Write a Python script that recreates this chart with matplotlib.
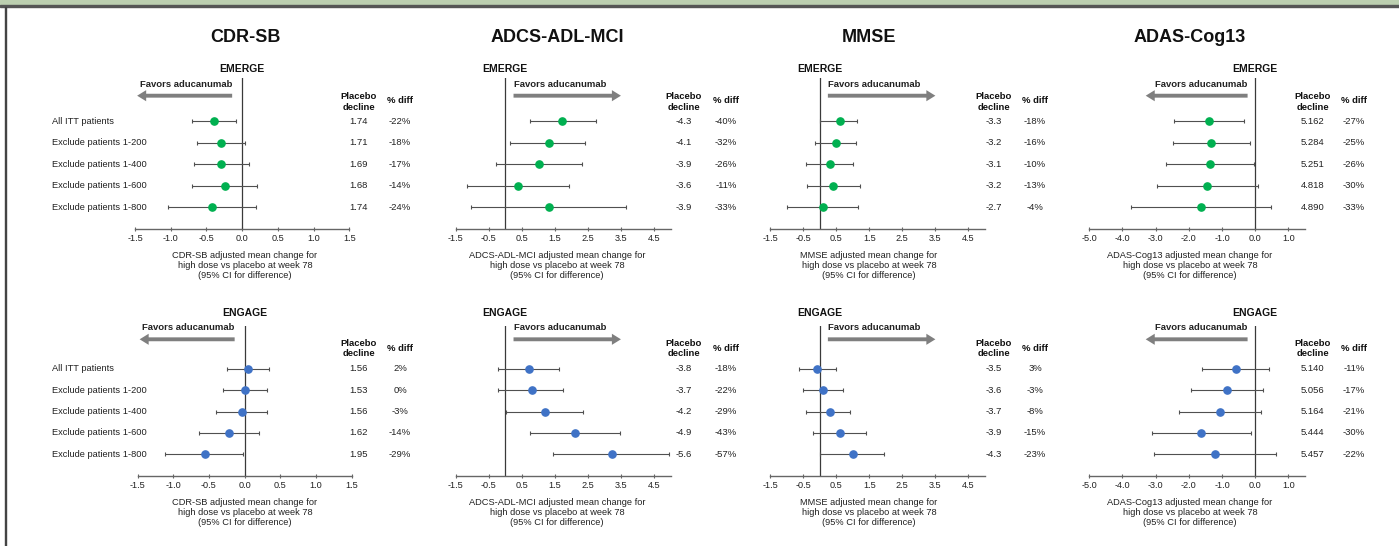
import numpy as np
import matplotlib
matplotlib.use("Agg")
import matplotlib.pyplot as plt
from matplotlib import transforms
from matplotlib.patches import Rectangle

plt.rcParams['font.family'] = ['Liberation Sans', 'DejaVu Sans']
plt.rcParams['axes.unicode_minus'] = False

W, H = 1399, 546

# ---- data ----
rows = ["All ITT patients", "Exclude patients 1-200", "Exclude patients 1-400",
        "Exclude patients 1-600", "Exclude patients 1-800"]
measures = ["CDR-SB", "ADCS-ADL-MCI", "MMSE", "ADAS-Cog13"]
studies = ["EMERGE", "ENGAGE"]

# EMERGE
emerge_cdr_est = [-0.39, -0.30, -0.29, -0.24, -0.42]
emerge_cdr_lo = [-0.70, -0.63, -0.68, -0.70, -1.04]
emerge_cdr_hi = [-0.08, 0.04, 0.10, 0.21, 0.20]
emerge_cdr_placebo = [1.74, 1.71, 1.69, 1.68, 1.74]
emerge_cdr_pct = [-22, -18, -17, -14, -24]

emerge_adl_est = [1.71, 1.31, 1.01, 0.40, 1.31]
emerge_adl_lo = [0.76, 0.14, -0.27, -1.15, -1.04]
emerge_adl_hi = [2.76, 2.40, 2.33, 1.93, 3.65]
emerge_adl_placebo = [-4.3, -4.1, -3.9, -3.6, -3.9]
emerge_adl_pct = [-40, -32, -26, -11, -33]

emerge_mmse_est = [0.61, 0.50, 0.30, 0.40, 0.10]
emerge_mmse_lo = [0.00, -0.13, -0.40, -0.38, -0.99]
emerge_mmse_hi = [1.14, 1.11, 1.01, 1.23, 1.17]
emerge_mmse_placebo = [-3.3, -3.2, -3.1, -3.2, -2.7]
emerge_mmse_pct = [-18, -16, -10, -13, -4]

emerge_adas_est = [-1.40, -1.32, -1.36, -1.44, -1.62]
emerge_adas_lo = [-2.45, -2.48, -2.68, -2.96, -3.73]
emerge_adas_hi = [-0.34, -0.15, -0.03, 0.09, 0.49]
emerge_adas_placebo = [5.162, 5.284, 5.251, 4.818, 4.890]
emerge_adas_pct = [-27, -25, -26, -30, -33]

# ENGAGE
engage_cdr_est = [0.04, 0.01, -0.04, -0.22, -0.56]
engage_cdr_lo = [-0.25, -0.31, -0.40, -0.64, -1.11]
engage_cdr_hi = [0.34, 0.31, 0.31, 0.20, -0.02]
engage_cdr_placebo = [1.56, 1.53, 1.56, 1.62, 1.95]
engage_cdr_pct = [2, 0, -3, -14, -29]

engage_adl_est = [0.72, 0.81, 1.21, 2.12, 3.22]
engage_adl_lo = [-0.23, -0.23, 0.02, 0.75, 1.45]
engage_adl_hi = [1.63, 1.75, 2.34, 3.48, 4.96]
engage_adl_placebo = [-3.8, -3.7, -4.2, -4.9, -5.6]
engage_adl_pct = [-18, -22, -29, -43, -57]

engage_mmse_est = [-0.09, 0.11, 0.30, 0.61, 1.01]
engage_mmse_lo = [-0.63, -0.49, -0.41, -0.21, 0.00]
engage_mmse_hi = [0.49, 0.72, 0.93, 1.40, 1.94]
engage_mmse_placebo = [-3.5, -3.6, -3.7, -3.9, -4.3]
engage_mmse_pct = [3, -3, -8, -15, -23]

engage_adas_est = [-0.58, -0.84, -1.07, -1.62, -1.22]
engage_adas_lo = [-1.60, -1.93, -2.29, -3.12, -3.04]
engage_adas_hi = [0.43, 0.24, 0.16, -0.12, 0.63]
engage_adas_placebo = [5.140, 5.056, 5.164, 5.444, 5.457]
engage_adas_pct = [-11, -17, -21, -30, -22]

data = {
    ("EMERGE", "CDR-SB"): (emerge_cdr_est, emerge_cdr_lo, emerge_cdr_hi, emerge_cdr_placebo, emerge_cdr_pct),
    ("EMERGE", "ADCS-ADL-MCI"): (emerge_adl_est, emerge_adl_lo, emerge_adl_hi, emerge_adl_placebo, emerge_adl_pct),
    ("EMERGE", "MMSE"): (emerge_mmse_est, emerge_mmse_lo, emerge_mmse_hi, emerge_mmse_placebo, emerge_mmse_pct),
    ("EMERGE", "ADAS-Cog13"): (emerge_adas_est, emerge_adas_lo, emerge_adas_hi, emerge_adas_placebo, emerge_adas_pct),
    ("ENGAGE", "CDR-SB"): (engage_cdr_est, engage_cdr_lo, engage_cdr_hi, engage_cdr_placebo, engage_cdr_pct),
    ("ENGAGE", "ADCS-ADL-MCI"): (engage_adl_est, engage_adl_lo, engage_adl_hi, engage_adl_placebo, engage_adl_pct),
    ("ENGAGE", "MMSE"): (engage_mmse_est, engage_mmse_lo, engage_mmse_hi, engage_mmse_placebo, engage_mmse_pct),
    ("ENGAGE", "ADAS-Cog13"): (engage_adas_est, engage_adas_lo, engage_adas_hi, engage_adas_placebo, engage_adas_pct),
}

# ---- layout (pixels of the 1399x546 picture) ----
panel = {
    "CDR-SB": dict(xlim=(-1.5, 1.5), ticks=np.arange(-1.5, 1.51, 0.5), left=135, right=349.3,
                   title_x=245, plac_x=358.5, pct_x=400, arrow=(-0.14, -1.47), dec=2),
    "ADCS-ADL-MCI": dict(xlim=(-1.5, 5.0), ticks=np.arange(-1.5, 4.51, 1.0), left=455.7, right=670.5,
                         title_x=557, plac_x=683.5, pct_x=726, arrow=(0.25, 3.5), dec=1),
    "MMSE": dict(xlim=(-1.5, 5.0), ticks=np.arange(-1.5, 4.51, 1.0), left=770, right=985,
                 title_x=869, plac_x=993.5, pct_x=1035, arrow=(0.25, 3.5), dec=1),
    "ADAS-Cog13": dict(xlim=(-5.0, 1.5), ticks=np.arange(-5.0, 1.01, 1.0), left=1089.3, right=1305,
                       title_x=1190, plac_x=1312.7, pct_x=1354, arrow=(-0.23, -3.3), dec=3),
}
band = {
    "EMERGE": dict(top=78.4, bottom=228.5, label=69.5, favors=84.3, arrow=95.7, plac=102.0,
                   pct=100.7, xlab=265.7, color="#00b050"),
    "ENGAGE": dict(top=325.9, bottom=475.7, label=313.3, favors=327.7, arrow=339.3, plac=348.7,
                   pct=348.3, xlab=512.2, color="#3f72c6"),
}

fig = plt.figure(figsize=(W / 100, H / 100), dpi=100)
fig.patch.set_facecolor("white")

def fx(x):
    return x / W

def fy(y):
    return 1 - y / H

# slide chrome: green strip on top and dark frame lines
fig.patches.append(Rectangle((0, fy(5)), 1, 5 / H, transform=fig.transFigure, color="#bccfb0", zorder=0))
fig.patches.append(Rectangle((0, fy(7)), 1, 2 / H, transform=fig.transFigure, color="#555555", zorder=1))
fig.patches.append(Rectangle((fx(4.5), 0), 1.5 / W, fy(7), transform=fig.transFigure, color="#444444", zorder=1))

ypos = np.arange(1, len(rows) + 1)

for s in studies:
    b = band[s]
    for m in measures:
        p = panel[m]
        left = p["left"] + (2.5 if (s == "ENGAGE" and m == "CDR-SB") else 0)
        right = p["right"] + (2.5 if (s == "ENGAGE" and m == "CDR-SB") else 0)
        ax = fig.add_axes([fx(left), fy(b["bottom"]), (right - left) / W, (b["bottom"] - b["top"]) / H])
        ax.set_facecolor("none")
        est, lo, hi, plac, pct = data[(s, m)]
        est = np.array(est)
        xerr = [est - np.array(lo), np.array(hi) - est]
        ax.errorbar(est, ypos, xerr=xerr, fmt="o", color=b["color"], markersize=5.2,
                    ecolor="#505050", elinewidth=0.8, capsize=1.6, capthick=0.8, zorder=3)
        ax.axvline(0, color="#3a3a3a", lw=0.9, zorder=2)
        ax.set_xlim(*p["xlim"])
        ax.set_ylim(6, -1)
        ax.set_xticks(p["ticks"])
        ax.set_xticklabels([f"{t:.1f}" for t in p["ticks"]], fontsize=6.6, color="#222222")
        ax.set_yticks([])
        for side in ("top", "left", "right"):
            ax.spines[side].set_visible(False)
        ax.spines["bottom"].set_color("#666666")
        ax.spines["bottom"].set_linewidth(1.0)
        ax.tick_params(axis="x", direction="inout", length=3.5, width=0.8, color="#666666", pad=2.0)

        tr_row = transforms.blended_transform_factory(fig.transFigure, ax.transData)
        tr_x = transforms.blended_transform_factory(ax.transData, fig.transFigure)

        # study label over the zero line
        ax.text(0, fy(b["label"]), s, transform=tr_x, ha="center", va="center",
                fontsize=7.5, fontweight="bold", color="#111111")
        # favors arrow
        a0, a1 = p["arrow"]
        ax.annotate("", xy=(a1, fy(b["arrow"])), xytext=(a0, fy(b["arrow"])),
                    xycoords=tr_x, textcoords=tr_x, annotation_clip=False,
                    arrowprops=dict(arrowstyle="simple,head_width=0.8,head_length=0.65,tail_width=0.28",
                                    mutation_scale=10, fc="#7f7f7f", ec="none", shrinkA=0, shrinkB=0))
        ax.text(a0, fy(b["favors"]), "Favors aducanumab", transform=tr_x,
                ha="right" if a1 < a0 else "left", va="center",
                fontsize=6.8, fontweight="bold", color="#222222")

        # column headers
        fig.text(fx(p["plac_x"]), fy(b["plac"]), "Placebo\ndecline", ha="center", va="center",
                 fontsize=6.8, fontweight="bold", linespacing=1.2, color="#111111")
        fig.text(fx(p["pct_x"]), fy(b["pct"]), "% diff", ha="center", va="center",
                 fontsize=6.8, fontweight="bold", color="#111111")

        for i, y in enumerate(ypos):
            ax.text(fx(p["plac_x"]), y, f"{plac[i]:.{p['dec']}f}", transform=tr_row,
                    ha="center", va="center", fontsize=6.8, color="#222222")
            ax.text(fx(p["pct_x"]), y, f"{pct[i]}%", transform=tr_row,
                    ha="center", va="center", fontsize=6.8, color="#222222")
            if m == "CDR-SB":
                ax.text(fx(52.3), y, rows[i], transform=tr_row, ha="left", va="center",
                        fontsize=6.7, color="#222222")

        fig.text(fx(p["title_x"]), fy(b["xlab"]),
                 f"{m} adjusted mean change for\nhigh dose vs placebo at week 78\n(95% CI for difference)",
                 ha="center", va="center", fontsize=6.7, linespacing=1.15, color="#222222")

        if s == "EMERGE":
            fig.text(fx(p["title_x"]), fy(38), m, ha="center", va="center",
                     fontsize=13, fontweight="bold", color="#111111")

fig.savefig("out.png", dpi=100, facecolor="white")
